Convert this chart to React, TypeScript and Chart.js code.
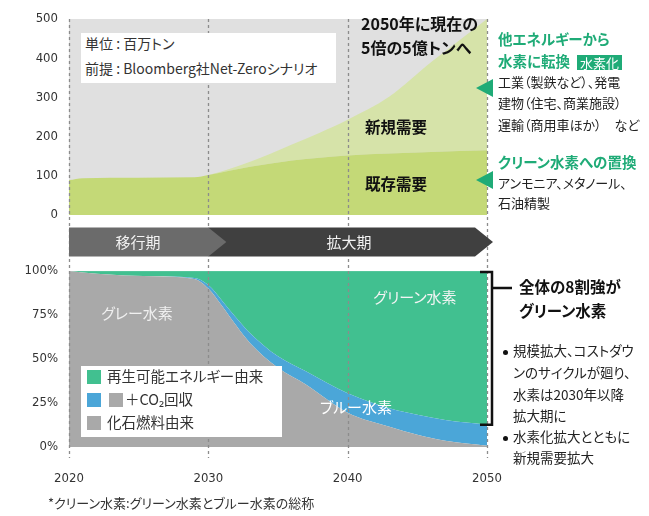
import React, { useEffect, useRef } from "react";
import { Chart, registerables } from "chart.js";

Chart.register(...registerables);

// ---- data ----
const DEMAND_YEARS = [2020, 2021, 2025, 2029, 2030, 2033, 2036, 2038, 2040, 2043, 2046, 2050];
const EXISTING_DEMAND = [89, 94, 95, 96, 102, 123, 139, 146, 152, 157, 161, 165];
const TOTAL_DEMAND = [89, 94, 95, 96, 102, 136, 180, 210, 243, 302, 390, 500];

const SHARE_YEARS = [2020, 2022, 2026, 2029, 2030, 2031, 2032, 2033, 2035, 2037, 2040, 2043, 2045, 2047, 2050];
const FOSSIL_SHARE = [100, 98.5, 97, 95.5, 90, 80, 69, 59, 45, 35.5, 19.5, 11.5, 7, 3.5, 0.7];
const CCS_SHARE = [0, 0, 0, 0.5, 2, 3, 4.5, 5.7, 6.5, 7.5, 11, 10.5, 11.3, 11.8, 12];
const RENEWABLE_SHARE = [0, 1.5, 3, 4, 8, 17, 26.5, 35.3, 48.5, 57, 69.5, 78, 81.7, 84.7, 87.3];

const YEAR_TICKS = [2020, 2030, 2040, 2050];
const DEMAND_TICKS = [0, 100, 200, 300, 400, 500];
const SHARE_TICKS = [0, 25, 50, 75, 100];
const PHASE_BREAK = 2030;

// ---- styles ----
const NUM_FONT = '"Liberation Sans Narrow", "DejaVu Sans Condensed", "Roboto Condensed", sans-serif';
const JP_FONT = '"Noto Sans CJK JP", "Noto Sans", sans-serif';
const C_EXIST = "#c4d977";
const C_NEW = "#d6e3a9";
const C_BG = "#e0e0e0";
const C_GREEN = "#41c090";
const C_BLUE = "#4ba6d8";
const C_GRAY = "#a9a9a9";
const C_ACCENT = "#1fab77";

const pts = (xs: number[], ys: number[]) => ys.map((y, i) => ({ x: xs[i], y }));

const decoPlugin = {
  id: "deco",
  beforeDatasetsDraw(chart: any) {
    const { ctx, scales } = chart;
    const x = scales.x, y = scales.yDemand;
    const l = x.getPixelForValue(YEAR_TICKS[0]);
    const r = x.getPixelForValue(YEAR_TICKS[YEAR_TICKS.length - 1]);
    const t = y.getPixelForValue(DEMAND_TICKS[DEMAND_TICKS.length - 1]);
    const b = y.getPixelForValue(0);
    ctx.save();
    ctx.fillStyle = C_BG;
    ctx.fillRect(l, t, r - l, b - t);
    ctx.restore();
  },
  afterDatasetsDraw(chart: any) {
    const { ctx, chartArea, scales } = chart;
    const x = scales.x, band = scales.yBand, ys = scales.yShare;
    ctx.save();
    // dashed year lines
    ctx.strokeStyle = "#8c8c8c";
    ctx.lineWidth = 1.3;
    ctx.setLineDash([3, 3]);
    for (const yr of YEAR_TICKS) {
      const px = Math.round(x.getPixelForValue(yr)) + 0.5;
      ctx.beginPath();
      ctx.moveTo(px, chartArea.top);
      ctx.lineTo(px, chartArea.bottom + 11);
      ctx.stroke();
    }
    ctx.setLineDash([]);
    // phase band
    const bt = band.top + 12.5, bb = band.bottom - 14.5, mid = (bt + bb) / 2;
    const x0 = x.getPixelForValue(YEAR_TICKS[0]);
    const x1 = x.getPixelForValue(PHASE_BREAK);
    const x2 = x.getPixelForValue(YEAR_TICKS[YEAR_TICKS.length - 1]);
    ctx.fillStyle = "#404040";
    ctx.beginPath();
    ctx.moveTo(x1, bt);
    ctx.lineTo(x2 - 12, bt);
    ctx.lineTo(x2 + 6, mid);
    ctx.lineTo(x2 - 12, bb);
    ctx.lineTo(x1, bb);
    ctx.closePath();
    ctx.fill();
    ctx.fillStyle = "#6b6b6b";
    ctx.beginPath();
    ctx.moveTo(x0, bt);
    ctx.lineTo(x1, bt);
    ctx.lineTo(x1 + 18, mid);
    ctx.lineTo(x1, bb);
    ctx.lineTo(x0, bb);
    ctx.closePath();
    ctx.fill();
    // bracket for green share in 2050
    const last = RENEWABLE_SHARE.length - 1;
    const yt = ys.getPixelForValue(100);
    const yb = ys.getPixelForValue(100 - RENEWABLE_SHARE[last]);
    const bx = x2 + 5;
    ctx.strokeStyle = "#111";
    ctx.lineWidth = 2.5;
    ctx.beginPath();
    ctx.moveTo(x2 - 7, yt + 1);
    ctx.lineTo(bx, yt + 1);
    ctx.lineTo(bx, yb);
    ctx.lineTo(x2 - 7, yb);
    ctx.moveTo(bx, yt + 17);
    ctx.lineTo(bx + 20, yt + 17);
    ctx.stroke();
    ctx.restore();
  },
};

function Label(props: any) {
  const { x, cy, size, center, children, style, palt = true } = props;
  return (
    <div
      style={{
        position: "absolute",
        left: x,
        top: cy - size * 0.56,
        fontSize: size,
        lineHeight: `${size}px`,
        whiteSpace: "nowrap",
        fontFeatureSettings: palt ? '"palt"' : "normal",
        transform: center ? "translateX(-50%)" : undefined,
        color: "#222",
        ...style,
      }}
    >
      {children}
    </div>
  );
}

function Swatch({ x, cy, color }: any) {
  return <div style={{ position: "absolute", left: x, top: cy - 7, width: 14, height: 14, background: color }} />;
}

function Dot({ x, cy }: any) {
  return <div style={{ position: "absolute", left: x, top: cy - 2.5, width: 5, height: 5, borderRadius: 3, background: "#111" }} />;
}

export default function App() {
  const ref = useRef<HTMLCanvasElement>(null);

  useEffect(() => {
    const tickFont = { family: NUM_FONT, size: 13 };
    const hidden = { display: false, drawTicks: false };
    const chart = new Chart(ref.current!, {
      type: "line",
      data: {
        datasets: [
          {
            label: "既存需要",
            data: pts(DEMAND_YEARS, EXISTING_DEMAND),
            yAxisID: "yDemand",
            backgroundColor: C_EXIST,
            borderColor: "transparent",
            borderWidth: 0,
            pointRadius: 0,
            fill: "origin",
            cubicInterpolationMode: "monotone",
          },
          {
            label: "新規需要",
            data: pts(DEMAND_YEARS, TOTAL_DEMAND),
            yAxisID: "yDemand",
            backgroundColor: C_NEW,
            borderColor: "transparent",
            borderWidth: 0,
            pointRadius: 0,
            fill: "-1",
            cubicInterpolationMode: "monotone",
          },
          {
            label: "化石燃料由来",
            data: pts(SHARE_YEARS, FOSSIL_SHARE),
            yAxisID: "yShare",
            backgroundColor: C_GRAY,
            borderColor: "transparent",
            borderWidth: 0,
            pointRadius: 0,
            fill: "origin",
            cubicInterpolationMode: "monotone",
          },
          {
            label: "+CO2回収",
            data: pts(SHARE_YEARS, CCS_SHARE),
            yAxisID: "yShare",
            backgroundColor: C_BLUE,
            borderColor: "transparent",
            borderWidth: 0,
            pointRadius: 0,
            fill: "-1",
            cubicInterpolationMode: "monotone",
          },
          {
            label: "再生可能エネルギー由来",
            data: pts(SHARE_YEARS, RENEWABLE_SHARE),
            yAxisID: "yShare",
            backgroundColor: C_GREEN,
            borderColor: "rgba(255,255,255,0.35)",
            borderWidth: 0.6,
            pointRadius: 0,
            fill: "-1",
            cubicInterpolationMode: "monotone",
          },
        ],
      },
      options: {
        animation: false,
        responsive: false,
        devicePixelRatio: 1,
        events: [],
        layout: { padding: { top: 19, left: 0, right: 162, bottom: 0 } },
        plugins: { legend: { display: false }, title: { display: false }, tooltip: { enabled: false } },
        scales: {
          x: {
            type: "linear",
            position: "bottom",
            min: YEAR_TICKS[0],
            max: YEAR_TICKS[YEAR_TICKS.length - 1],
            grid: hidden,
            border: { display: false },
            afterBuildTicks: (s: any) => {
              s.ticks = YEAR_TICKS.map((v) => ({ value: v }));
            },
            ticks: { callback: (v: any) => String(v), font: tickFont, color: "#333", padding: 24, maxRotation: 0, autoSkip: false },
            afterFit: (s: any) => {
              s.height = 69;
            },
          },
          yShare: {
            type: "linear",
            position: "left",
            stack: "main",
            stackWeight: 176,
            stacked: true,
            min: 0,
            max: 100,
            grid: hidden,
            border: { display: false },
            afterBuildTicks: (s: any) => {
              s.ticks = SHARE_TICKS.map((v) => ({ value: v }));
            },
            ticks: { callback: (v: any) => `${v}%`, font: tickFont, color: "#333", padding: 11 },
            afterFit: (s: any) => {
              s.width = 69;
            },
          },
          yBand: {
            type: "linear",
            position: "left",
            stack: "main",
            stackWeight: 56,
            min: 0,
            max: 1,
            grid: hidden,
            border: { display: false },
            ticks: { display: false },
            afterFit: (s: any) => {
              s.width = 69;
            },
          },
          yDemand: {
            type: "linear",
            position: "left",
            stack: "main",
            stackWeight: 196,
            min: 0,
            max: DEMAND_TICKS[DEMAND_TICKS.length - 1],
            grid: hidden,
            border: { display: false },
            afterBuildTicks: (s: any) => {
              s.ticks = DEMAND_TICKS.map((v) => ({ value: v }));
            },
            ticks: { callback: (v: any) => String(v), font: tickFont, color: "#333", padding: 11 },
            afterFit: (s: any) => {
              s.width = 69;
            },
          },
        },
      } as any,
      plugins: [decoPlugin],
    });
    return () => chart.destroy();
  }, []);

  return (
    <div
      style={{
        position: "absolute",
        left: 0,
        top: 0,
        width: 649,
        height: 516,
        background: "#fff",
        overflow: "hidden",
        fontFamily: JP_FONT,
        color: "#222",
      }}
    >
      <canvas ref={ref} width={649} height={516} style={{ position: "absolute", left: 0, top: 0, width: 649, height: 516 }} />

      {/* unit box */}
      <div style={{ position: "absolute", left: 81, top: 33, width: 255, height: 50, background: "#fff" }} />
      <Label x={85} cy={44} size={14} style={{ color: "#333" }}>単位 : 百万トン</Label>
      <Label x={85} cy={69} size={14} style={{ color: "#333" }}>前提 : Bloomberg社Net-Zeroシナリオ</Label>

      {/* top chart notes */}
      <Label x={361} cy={24} size={16} style={{ fontWeight: 700, color: "#111" }}>2050年に現在の</Label>
      <Label x={361} cy={48} size={16} style={{ fontWeight: 700, color: "#111" }}>5倍の5億トンへ</Label>
      <Label x={365} cy={128} size={15.5} style={{ fontWeight: 700, color: "#111" }}>新規需要</Label>
      <Label x={365} cy={185} size={15.5} style={{ fontWeight: 700, color: "#111" }}>既存需要</Label>

      {/* right-side notes, top */}
      <svg width={649} height={516} style={{ position: "absolute", left: 0, top: 0 }}>
        <polygon points="476,88 493,79 493,97" fill={C_ACCENT} />
        <polygon points="476,180 493,171 493,189" fill={C_ACCENT} />
      </svg>
      <Label x={498} cy={40} size={14.5} style={{ fontWeight: 700, color: C_ACCENT }}>他エネルギーから</Label>
      <Label x={498} cy={62} size={14.5} style={{ fontWeight: 700, color: C_ACCENT }}>水素に転換</Label>
      <div
        style={{
          position: "absolute",
          left: 577,
          top: 55,
          width: 45,
          height: 15,
          background: C_ACCENT,
          color: "#fff",
          fontSize: 13,
          lineHeight: "15px",
          textAlign: "center",
          whiteSpace: "nowrap",
        }}
      >
        水素化
      </div>
      <Label x={498} cy={82} size={13}>工業（製鉄など）、発電</Label>
      <Label x={498} cy={103} size={13}>建物（住宅、商業施設）</Label>
      <Label x={498} cy={125} size={13}>運輸（商用車ほか）　など</Label>
      <Label x={498} cy={163} size={14.5} style={{ fontWeight: 700, color: C_ACCENT }}>クリーン水素への置換</Label>
      <Label x={498} cy={183} size={13}>アンモニア、メタノール、</Label>
      <Label x={498} cy={203} size={13}>石油精製</Label>

      {/* phase band labels */}
      <Label x={138} cy={242} size={15} center style={{ color: "#f2f2f2" }}>移行期</Label>
      <Label x={349} cy={242} size={15} center style={{ color: "#f2f2f2" }}>拡大期</Label>

      {/* bottom chart labels */}
      <Label x={137} cy={313} size={15} center style={{ color: "#f0f0f0" }}>グレー水素</Label>
      <Label x={415} cy={297} size={15} center style={{ color: "#f4f4f4" }}>グリーン水素</Label>
      <Label x={356} cy={407} size={15} center style={{ color: "#fff" }}>ブルー水素</Label>

      {/* legend */}
      <div style={{ position: "absolute", left: 81, top: 366, width: 201, height: 71, background: "#fff" }} />
      <Swatch x={87} cy={377} color={C_GREEN} />
      <Label x={107} cy={377} size={14.5} style={{ color: "#333" }}>再生可能エネルギー由来</Label>
      <Swatch x={87} cy={400} color={C_BLUE} />
      <Swatch x={109} cy={400} color={C_GRAY} />
      <Label x={125} cy={400} size={14.5} style={{ color: "#333" }}>＋CO₂回収</Label>
      <Swatch x={87} cy={423} color={C_GRAY} />
      <Label x={107} cy={423} size={14.5} style={{ color: "#333" }}>化石燃料由来</Label>

      {/* right-side notes, bottom */}
      <Label x={519} cy={288} size={15.5} style={{ fontWeight: 700, color: "#111" }}>全体の8割強が</Label>
      <Label x={519} cy={312} size={15.5} style={{ fontWeight: 700, color: "#111" }}>グリーン水素</Label>
      <Dot x={503} cy={352} />
      <Label x={513} cy={352} size={13.5}>規模拡大、コストダウ</Label>
      <Label x={513} cy={374} size={13.5}>ンのサイクルが廻り、</Label>
      <Label x={513} cy={396} size={13.5}>水素は2030年以降</Label>
      <Label x={513} cy={417} size={13.5}>拡大期に</Label>
      <Dot x={503} cy={438} />
      <Label x={513} cy={438} size={13.5}>水素化拡大とともに</Label>
      <Label x={513} cy={459} size={13.5}>新規需要拡大</Label>

      {/* footnote */}
      <Label x={48} cy={503} size={13} style={{ color: "#333" }}>*クリーン水素:グリーン水素とブルー水素の総称</Label>
    </div>
  );
}
